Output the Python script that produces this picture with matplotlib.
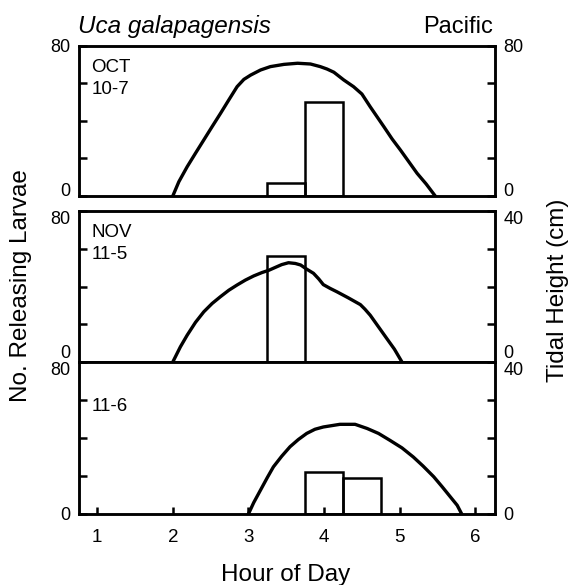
import numpy as np
from matplotlib import pyplot as plt

plt.rcParams['font.family'] = ['Liberation Sans', 'DejaVu Sans']

# bars: left edge (hour), number of larvae released
oct7_bar_hours = [3.25, 3.75]
oct7_bar_counts = [7, 50]
nov5_bar_hours = [3.25]
nov5_bar_counts = [56]
nov6_bar_hours = [3.75, 4.25]
nov6_bar_counts = [22, 19]

# tidal height (cm) against hour of day
oct7_tide_hours = [2.0, 2.08, 2.19, 2.30, 2.41, 2.52, 2.63, 2.74, 2.85, 2.94, 3.03,
                   3.16, 3.29, 3.47, 3.65, 3.82, 3.95, 4.04, 4.13, 4.26, 4.39, 4.50,
                   4.61, 4.70, 4.79, 4.90, 5.01, 5.12, 5.23, 5.35, 5.47]
oct7_tide_cm = [0, 7.6, 15.6, 22.8, 29.9, 37, 44, 51.2, 58.3, 62.2, 64.5,
                67.2, 69, 70.2, 70.8, 70.4, 69, 67.7, 66, 61.9, 58.3, 54.4,
                47.6, 42.3, 37, 30.4, 24.5, 18.3, 12.1, 6.4, 0]
nov5_tide_hours = [2.0, 2.10, 2.19, 2.30, 2.41, 2.52, 2.63, 2.74, 2.85, 2.96, 3.07,
                   3.18, 3.27, 3.36, 3.44, 3.53, 3.62, 3.69, 3.77, 3.86, 3.93, 3.99,
                   4.08, 4.17, 4.32, 4.48, 4.54, 4.61, 4.72, 4.83, 4.93, 5.03]
nov5_tide_cm = [0, 4.0, 7.1, 10.5, 13.3, 15.5, 17.3, 19.0, 20.4, 21.7, 22.8,
                23.7, 24.3, 25.1, 25.8, 26.3, 26.1, 25.7, 24.6, 23.5, 22.0, 20.5,
                19.5, 18.6, 17.0, 15.2, 14.0, 12.4, 9.3, 6.2, 3.4, 0]
nov6_tide_hours = [3.0, 3.07, 3.16, 3.25, 3.33, 3.44, 3.55, 3.66, 3.77, 3.88, 3.99,
                   4.21, 4.41, 4.57, 4.72, 4.87, 5.03, 5.18, 5.31, 5.45, 5.56, 5.67,
                   5.76, 5.82]
nov6_tide_cm = [0, 3.0, 6.3, 9.6, 12.4, 15.2, 17.7, 19.6, 21.2, 22.3, 22.9,
                23.6, 23.6, 22.5, 21.2, 19.4, 17.4, 15, 12.6, 9.8, 7.2, 4.5,
                2.3, 0]

panel_labels = [['OCT', '10-7'], ['NOV', '11-5'], ['', '11-6']]
tide_max = [80, 40, 40]
hour_ticks = [1, 2, 3, 4, 5, 6]

LW = 1.8
FS = 13

fig = plt.figure(figsize=(5.7, 5.85), dpi=100)

left, width = 79 / 570, 416 / 570
boxes = [(46, 196), (211, 362), (362, 514)]

panels = [
    (oct7_bar_hours, oct7_bar_counts, oct7_tide_hours, oct7_tide_cm),
    (nov5_bar_hours, nov5_bar_counts, nov5_tide_hours, nov5_tide_cm),
    (nov6_bar_hours, nov6_bar_counts, nov6_tide_hours, nov6_tide_cm),
]

for i, (bh, bc, th, tc) in enumerate(panels):
    top, bot = boxes[i]
    ax = fig.add_axes([left, 1 - bot / 585, width, (bot - top) / 585])
    ax.bar(bh, bc, width=0.5, align='edge', fill=False, edgecolor='black', linewidth=LW)
    ax.set_xlim(0.76, 6.26)
    ax.set_ylim(0, 80)
    ax.set_yticks([0, 20, 40, 60, 80])
    ax.set_yticklabels(['0', '', '', '', '80'])
    ax.tick_params(axis='y', direction='in', length=6, width=LW, labelsize=FS, pad=6)
    for s in ax.spines.values():
        s.set_linewidth(LW)

    tw = ax.twinx()
    tw.plot(th, tc, color='black', linewidth=2.4, solid_joinstyle='round')
    tw.set_ylim(0, tide_max[i])
    m = tide_max[i]
    tw.set_yticks([0, m / 4, m / 2, 3 * m / 4, m])
    tw.set_yticklabels(['0', '', '', '', str(m)])
    tw.tick_params(axis='y', direction='in', length=6, width=LW, labelsize=FS, pad=6)
    for s in tw.spines.values():
        s.set_linewidth(LW)

    # nudge end labels so neighbouring panels don't collide
    for a in (ax, tw):
        ticks = a.yaxis.get_major_ticks()
        if i > 0:
            ticks[-1].label1.set_verticalalignment('top')
            ticks[-1].label2.set_verticalalignment('top')
        if i == 0:
            ticks[0].label1.set_verticalalignment('baseline')
            ticks[0].label2.set_verticalalignment('baseline')
        elif i == 1:
            ticks[0].label1.set_verticalalignment('bottom')
            ticks[0].label2.set_verticalalignment('bottom')

    if i < 2:
        ax.set_xticks([])
    else:
        ax.set_xticks(hour_ticks)
        ax.tick_params(axis='x', direction='in', length=5, width=LW, labelsize=13.5, pad=11)

    ax.text(0.03, 0.915, panel_labels[i][0], transform=ax.transAxes,
            fontsize=13.5, va='top', ha='left')
    ax.text(0.03, 0.765, panel_labels[i][1], transform=ax.transAxes,
            fontsize=13.5, va='top', ha='left')

fig.text(78 / 570, 1 - 33 / 585, 'Uca galapagensis', fontsize=17.5, style='italic',
         ha='left', va='baseline')
fig.text(493 / 570, 1 - 33 / 585, 'Pacific', fontsize=17, ha='right', va='baseline')
fig.text(21 / 570, 1 - 286 / 585, 'No. Releasing Larvae', fontsize=17.5,
         rotation=90, ha='center', va='center')
fig.text(558 / 570, 1 - 290 / 585, 'Tidal Height (cm)', fontsize=17.5,
         rotation=90, ha='center', va='center')
fig.text(286 / 570, 1 - 575 / 585, 'Hour of Day', fontsize=17.5, ha='center', va='center')

plt.savefig('out.png', dpi=100)
